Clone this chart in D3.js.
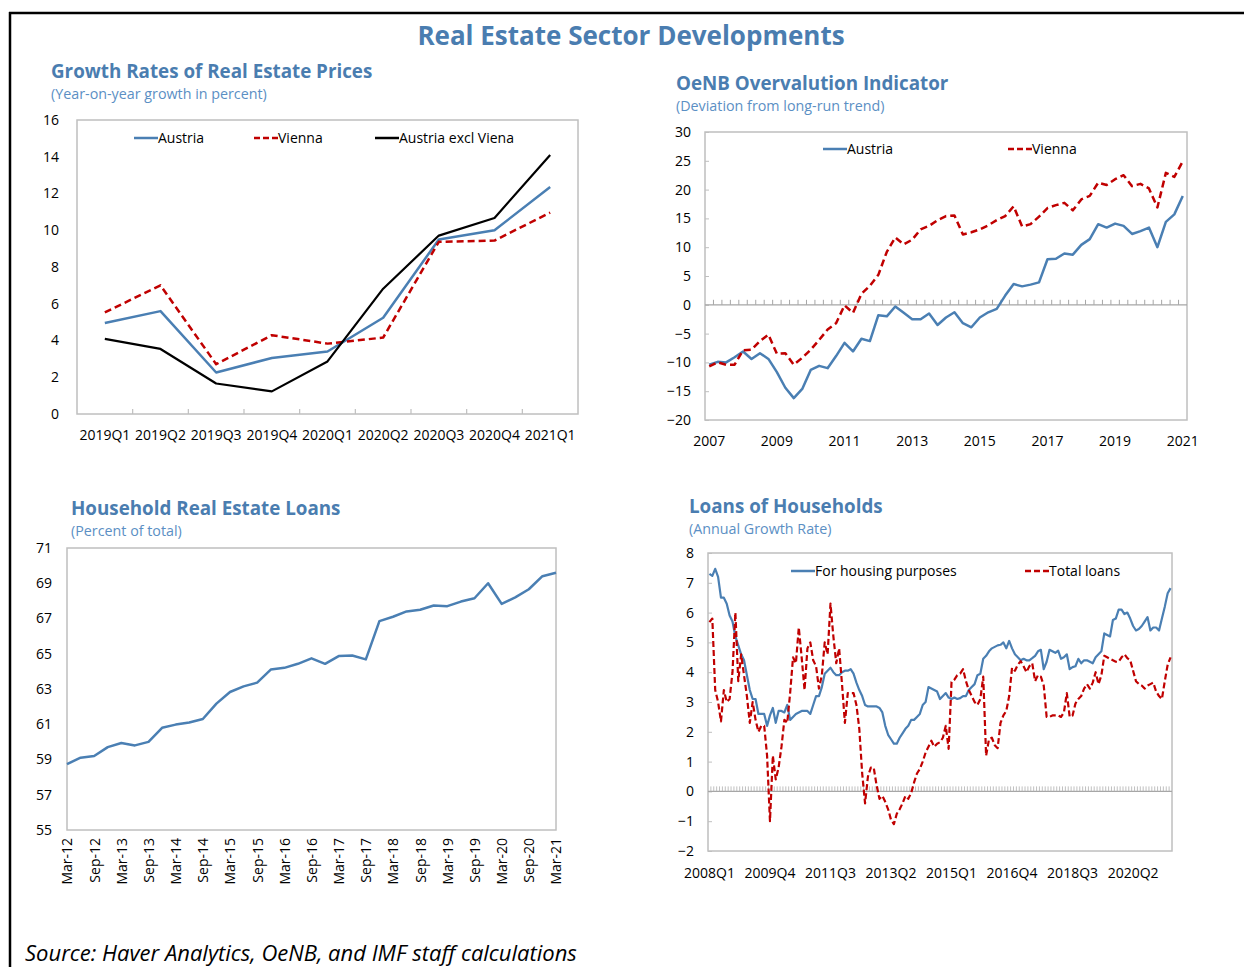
<!DOCTYPE html>
<html><head><meta charset="utf-8">
<script src="https://cdn.jsdelivr.net/npm/d3@7"></script>
<style>
body{margin:0;background:#fff;}
svg text{font-family:"Open Sans",sans-serif;}
</style></head><body>
<svg id="c" width="1244" height="967"></svg>
<script>
// ---------- DATA ----------
const priceQuarters = ["2019Q1","2019Q2","2019Q3","2019Q4","2020Q1","2020Q2","2020Q3","2020Q4","2021Q1"];
const priceAustria = [4.95,5.6,2.26,3.05,3.4,5.24,9.5,10.0,12.35];
const priceVienna = [5.53,7.0,2.71,4.29,3.83,4.16,9.37,9.44,10.96];
const priceAustriaExVienna = [4.09,3.54,1.66,1.23,2.86,6.82,9.71,10.67,14.1];
const priceTicks = [0,2,4,6,8,10,12,14,16];

const ovQuarters = [];
for (let yr = 2007; yr <= 2021; yr++) for (let q = 1; q <= 4; q++) if (!(yr === 2021 && q > 1)) ovQuarters.push(yr + "Q" + q);
const ovAustria = [-10.4,-9.9,-10.0,-9.1,-8.1,-9.4,-8.4,-9.4,-11.7,-14.4,-16.2,-14.6,-11.3,-10.6,-11.0,-8.9,-6.6,-8.1,-5.9,-6.3,-1.8,-2.0,-0.3,-1.4,-2.5,-2.5,-1.5,-3.5,-2.2,-1.3,-3.2,-3.9,-2.2,-1.3,-0.7,1.6,3.6,3.2,3.5,3.9,7.9,8.0,8.9,8.7,10.4,11.4,14.0,13.4,14.1,13.7,12.3,12.8,13.4,10.0,14.4,15.7,18.9];
const ovVienna = [-10.7,-10.0,-10.4,-10.4,-7.9,-7.8,-6.3,-5.2,-8.5,-8.4,-10.4,-9.2,-7.8,-6.1,-4.3,-3.2,-0.1,-1.4,1.9,3.3,5.2,9.2,11.7,10.5,11.3,13.1,13.7,14.7,15.4,15.5,12.2,12.6,13.1,13.8,14.7,15.4,17.1,13.6,14.0,15.3,16.8,17.3,17.7,16.4,18.3,18.9,21.2,20.8,21.8,22.5,20.6,21.0,20.2,16.9,22.9,22.2,24.9];
const ovTickLabels = ["2007Q1","2009Q1","2011Q1","2013Q1","2015Q1","2017Q1","2019Q1","2021Q1"];
const ovYTicks = [-20,-15,-10,-5,0,5,10,15,20,25,30];

const shareQuarters = [];
const monthNames = ["Mar","Jun","Sep","Dec"];
for (let yr = 12; yr <= 21; yr++) for (let q = 0; q < 4; q++) if (!(yr === 21 && q > 0)) shareQuarters.push(monthNames[q] + "-" + yr);
const shareValues = [58.74,59.1,59.2,59.7,59.94,59.8,60.0,60.8,60.98,61.1,61.3,62.17,62.83,63.15,63.36,64.1,64.2,64.43,64.74,64.43,64.87,64.9,64.68,66.85,67.1,67.4,67.5,67.74,67.7,67.96,68.15,69.0,67.83,68.2,68.66,69.4,69.6];
const shareTickLabels = shareQuarters.filter(d => d.startsWith("Mar") || d.startsWith("Sep"));
const shareYTicks = [55,57,59,61,63,65,67,69,71];

const loanMonths = [];
for (let m = 0; m < 161; m++) loanMonths.push((2008 + Math.floor(m / 12)) + "-" + String(m % 12 + 1).padStart(2, "0"));
const loanHousing = [7.3,7.23,7.47,7.2,6.5,6.5,6.3,5.9,5.7,5.2,
4.9,4.6,4.4,3.9,3.4,3.1,3.1,2.6,2.6,2.6,
2.2,2.55,2.8,2.3,2.7,2.7,2.65,2.9,2.4,2.5,
2.6,2.65,2.7,2.7,2.7,2.6,2.9,3.2,3.2,3.5,
3.95,4.05,4.15,4.0,3.9,3.9,4.0,4.05,4.05,4.1,
3.95,3.65,3.4,3.2,2.9,2.85,2.85,2.85,2.85,2.8,
2.65,2.2,1.9,1.75,1.6,1.6,1.8,1.95,2.1,2.2,
2.4,2.4,2.5,2.6,2.9,3.0,3.5,3.45,3.4,3.35,
3.1,3.2,3.3,3.15,3.1,3.15,3.1,3.13,3.2,3.2,
3.4,3.5,3.6,3.9,3.95,4.45,4.55,4.7,4.8,4.85,
4.9,4.92,5.0,4.8,5.05,4.8,4.6,4.5,4.4,4.45,
4.4,4.4,4.47,4.55,4.7,4.75,4.1,4.35,4.75,4.7,
4.65,4.72,4.45,4.5,4.6,4.1,4.17,4.2,4.45,4.3,
4.4,4.4,4.35,4.3,4.5,4.6,4.7,5.3,5.25,5.2,
5.75,5.8,6.1,6.1,5.95,6.0,5.8,5.55,5.4,5.45,
5.55,5.7,5.85,5.4,5.5,5.5,5.4,5.8,6.2,6.65,
6.82];
const loanTotal = [5.68,5.8,3.4,3.0,2.35,3.4,3.0,3.1,4.0,6.0,
3.7,4.6,3.9,3.2,2.3,3.0,2.4,2.0,2.2,2.2,
1.2,-1.0,1.2,0.4,0.8,1.5,2.4,2.3,3.3,4.5,
4.3,5.5,4.5,3.4,4.8,5.0,4.4,4.2,3.45,3.9,
5.0,4.6,6.3,5.2,4.3,4.8,3.6,2.3,3.3,3.3,
3.3,2.9,2.1,0.6,-0.4,0.5,0.8,0.8,0.2,-0.25,
-0.15,-0.35,-0.6,-0.95,-1.1,-0.75,-0.6,-0.4,-0.15,-0.25,
-0.05,0.3,0.6,0.75,1.0,1.3,1.5,1.7,1.5,1.6,
1.65,1.8,2.2,1.43,3.67,3.75,3.9,3.95,4.1,3.7,
3.4,3.2,3.0,2.9,3.1,3.85,1.2,1.75,1.8,1.55,
1.45,2.3,2.55,2.7,3.2,4.15,4.05,4.25,4.37,4.2,
4.0,4.2,4.3,3.7,3.9,3.85,3.55,2.5,2.5,2.55,
2.55,2.55,2.5,2.65,3.3,2.5,2.55,2.95,3.1,3.2,
3.45,3.6,3.45,3.65,4.0,3.6,3.9,4.55,4.5,4.45,
4.4,4.35,4.35,4.5,4.6,4.47,4.4,4.05,3.7,3.6,
3.55,3.45,3.55,3.6,3.65,3.35,3.2,3.1,3.7,4.25,
4.5];
const loanTickCats = [0,21,42,63,84,105,126,147];
const loanTickLabels = ["2008Q1","2009Q4","2011Q3","2013Q2","2015Q1","2016Q4","2018Q3","2020Q2"];
const loanYTicks = [-2,-1,0,1,2,3,4,5,6,7,8];

// ---------- STYLE ----------
const BLUE = "#4a7fb3", RED = "#c00000", FRAME = "#bfbfbf", TITLE = "#4a7db0", SUB = "#5b8fc4";
const svg = d3.select("#c");

// outer border
svg.append("line").attr("x1", 9).attr("x2", 1244).attr("y1", 13).attr("y2", 13).attr("stroke", "#000").attr("stroke-width", 2.5);
svg.append("line").attr("x1", 10).attr("x2", 10).attr("y1", 12).attr("y2", 967).attr("stroke", "#000").attr("stroke-width", 2.5);

svg.append("text").attr("x", 631).attr("y", 45).attr("text-anchor", "middle")
  .style("font-family", "Open Sans").style("font-weight", "bold").style("font-size", "26px").attr("fill", TITLE)
  .text("Real Estate Sector Developments");
svg.append("text").attr("x", 25).attr("y", 961)
  .style("font-family", "Open Sans").style("font-style", "italic").style("font-size", "22px").attr("fill", "#000")
  .text("Source: Haver Analytics, OeNB, and IMF staff calculations");

function titles(x, y, t, s) {
  svg.append("text").attr("x", x).attr("y", y).style("font-family", "Open Sans").style("font-weight", "bold")
    .style("font-size", "18.8px").attr("fill", TITLE).text(t);
  svg.append("text").attr("x", x).attr("y", y + 21).style("font-family", "Open Sans")
    .style("font-size", "14.3px").attr("fill", SUB).text(s);
}
function frame(x0, x1, y0, y1) {
  svg.append("rect").attr("x", x0).attr("y", y0).attr("width", x1 - x0).attr("height", y1 - y0)
    .attr("fill", "none").attr("stroke", FRAME).attr("stroke-width", 1.5);
}
function yAxis(y, x0, ticks, inner, pad) {
  const g = svg.append("g").attr("transform", `translate(${x0},0)`)
    .call(d3.axisLeft(y).tickValues(ticks).tickSize(inner ? -4 : 0).tickPadding(pad));
  g.select(".domain").remove();
  g.selectAll("line").attr("stroke", FRAME);
  g.selectAll("text").style("font-family", "Open Sans").style("font-size", "14px").attr("fill", "#000");
  return g;
}
function legendItem(x, y, color, dash, label, w) {
  svg.append("line").attr("x1", x).attr("x2", x + (w || 24)).attr("y1", y).attr("y2", y)
    .attr("stroke", color).attr("stroke-width", 2.5).attr("stroke-dasharray", dash);
  svg.append("text").attr("x", x + (w || 24)).attr("y", y + 5).style("font-family", "Open Sans")
    .style("font-size", "14px").attr("fill", "#000").text(label);
}
function path(data, x, y, color, dash, w, cats) {
  svg.append("path").datum(data)
    .attr("d", d3.line().x((d, i) => x(cats[i]) + (x.bandwidth ? x.bandwidth() / 2 : 0)).y(d => y(d)))
    .attr("fill", "none").attr("stroke", color).attr("stroke-width", w)
    .attr("stroke-dasharray", dash).attr("stroke-linejoin", "round");
}

// ---------- CHART 1 ----------
{
  titles(51, 78, "Growth Rates of Real Estate Prices", "(Year-on-year growth in percent)");
  const x = d3.scaleBand().domain(priceQuarters).range([77, 578]);
  const y = d3.scaleLinear().domain([0, 16]).range([414, 120]);
  frame(77, 578, 120, 414);
  yAxis(y, 77, priceTicks, false, 18);
  priceQuarters.slice(1).forEach(q => svg.append("line").attr("x1", x(q)).attr("x2", x(q))
    .attr("y1", y(0)).attr("y2", y(0) - 5).attr("stroke", FRAME).attr("stroke-width", 1.2));
  const gx = svg.append("g").attr("transform", `translate(0,${y(0)})`).call(d3.axisBottom(x).tickSize(0).tickPadding(16));
  gx.select(".domain").remove();
  gx.selectAll("text").style("font-family", "Open Sans").style("font-size", "14px").attr("fill", "#000");
  path(priceAustria, x, y, BLUE, null, 2.5, priceQuarters);
  path(priceVienna, x, y, RED, "7,4", 2.5, priceQuarters);
  path(priceAustriaExVienna, x, y, "#000", null, 2.2, priceQuarters);
  legendItem(134, 138, BLUE, null, "Austria");
  legendItem(254, 138, RED, "6,3", "Vienna");
  legendItem(375, 138, "#000", null, "Austria excl Viena");
}

// ---------- CHART 2 ----------
{
  titles(676, 90, "OeNB Overvalution Indicator", "(Deviation from long-run trend)");
  const x = d3.scaleBand().domain(ovQuarters).range([705, 1187]);
  const y = d3.scaleLinear().domain([-20, 30]).range([420, 132]);
  frame(705, 1187, 132, 420);
  yAxis(y, 705, ovYTicks, true, 14);
  svg.append("line").attr("x1", 705).attr("x2", 1187).attr("y1", y(0)).attr("y2", y(0)).attr("stroke", "#a6a6a6").attr("stroke-width", 1.3);
  ovQuarters.slice(1).forEach(q => svg.append("line").attr("x1", x(q)).attr("x2", x(q))
    .attr("y1", y(0)).attr("y2", y(0) - 5).attr("stroke", "#a6a6a6").attr("stroke-width", 1));
  const gx = svg.append("g").attr("transform", `translate(0,${y(-20)})`)
    .call(d3.axisBottom(x).tickValues(ovTickLabels).tickFormat(d => d.slice(0, 4)).tickSize(0).tickPadding(16));
  gx.select(".domain").remove();
  gx.selectAll("text").style("font-family", "Open Sans").style("font-size", "14px").attr("fill", "#000");
  path(ovAustria, x, y, BLUE, null, 2.5, ovQuarters);
  path(ovVienna, x, y, RED, "7,4", 2.5, ovQuarters);
  legendItem(823, 149, BLUE, null, "Austria");
  legendItem(1008, 149, RED, "6,3", "Vienna");
}

// ---------- CHART 3 ----------
{
  titles(71, 515, "Household Real Estate Loans", "(Percent of total)");
  const x = d3.scalePoint().domain(shareQuarters).range([67, 556]);
  const y = d3.scaleLinear().domain([55, 71]).range([830, 548]);
  frame(67, 556, 548, 830);
  yAxis(y, 67, shareYTicks, false, 15);
  const gx = svg.append("g").attr("transform", `translate(0,${y(55)})`)
    .call(d3.axisBottom(x).tickValues(shareTickLabels).tickSize(0).tickPadding(8));
  gx.select(".domain").remove();
  gx.selectAll("text").style("font-family", "Open Sans").style("font-size", "14px").attr("fill", "#000")
    .attr("transform", "rotate(-90)").attr("text-anchor", "end").attr("dy", "0.35em").attr("x", -8).attr("y", 0);
  path(shareValues, x, y, BLUE, null, 2.5, shareQuarters);
}

// ---------- CHART 4 ----------
{
  titles(689, 513, "Loans of Households", "(Annual Growth Rate)");
  const x = d3.scaleBand().domain(loanMonths).range([708, 1172]);
  const y = d3.scaleLinear().domain([-2, 8]).range([851, 553]);
  frame(708, 1172, 553, 851);
  yAxis(y, 708, loanYTicks, true, 14);
  svg.append("line").attr("x1", 708).attr("x2", 1172).attr("y1", y(0)).attr("y2", y(0)).attr("stroke", "#a6a6a6").attr("stroke-width", 1.3);
  loanMonths.slice(1).forEach(m => svg.append("line").attr("x1", x(m)).attr("x2", x(m))
    .attr("y1", y(0)).attr("y2", y(0) - 5).attr("stroke", "#b0b0b0").attr("stroke-width", 0.8));
  const gx = svg.append("g").attr("transform", `translate(0,${y(-2)})`)
    .call(d3.axisBottom(x).tickValues(loanTickCats.map(i => loanMonths[i]))
      .tickFormat((d, i) => loanTickLabels[i]).tickSize(0).tickPadding(17));
  gx.select(".domain").remove();
  gx.selectAll("text").style("font-family", "Open Sans").style("font-size", "14px").attr("fill", "#000");
  path(loanHousing, x, y, BLUE, null, 2.2, loanMonths);
  path(loanTotal, x, y, RED, "6,3", 2.2, loanMonths);
  legendItem(791, 571, BLUE, null, "For housing purposes");
  legendItem(1025, 571, RED, "6,3", "Total loans");
}
</script></body></html>
